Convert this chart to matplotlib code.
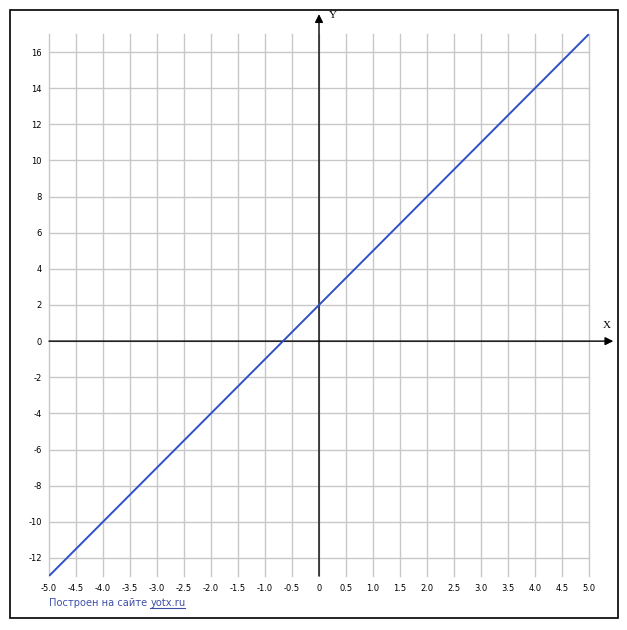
import matplotlib
matplotlib.use("Agg")
import matplotlib.pyplot as plt
from matplotlib.patches import Rectangle
from matplotlib.lines import Line2D

# Data
line_x = [-5.0, 5.0]
line_y = [-13.0, 17.0]
x_ticks = [-5.0, -4.5, -4.0, -3.5, -3.0, -2.5, -2.0, -1.5, -1.0, -0.5, 0.0,
           0.5, 1.0, 1.5, 2.0, 2.5, 3.0, 3.5, 4.0, 4.5, 5.0]
y_ticks = [-12, -10, -8, -6, -4, -2, 0, 2, 4, 6, 8, 10, 12, 14, 16]
x_labels = ["0" if v == 0 else f"{v:.1f}" for v in x_ticks]
y_labels = [str(v) for v in y_ticks]
xlim = (-5.0, 5.0)
ylim = (-13.0, 17.0)

W, H = 627, 630
fig = plt.figure(figsize=(W / 100, H / 100), dpi=100)
fig.patch.set_facecolor("white")

def fx(px):
    return px / W

def fy(py):
    return (H - py) / H

ax = fig.add_axes([fx(49), fy(576), (589 - 49) / W, (576 - 34) / H])
ax.set_xlim(*xlim)
ax.set_ylim(*ylim)
for s in ax.spines.values():
    s.set_visible(False)
ax.set_xticks(x_ticks)
ax.set_xticklabels(x_labels)
ax.set_yticks(y_ticks)
ax.set_yticklabels(y_labels)
ax.tick_params(length=0, labelsize=6, pad=6, labelcolor="black")
ax.tick_params(axis="y", pad=5)
ax.grid(True, color="#c8c8c8", linewidth=1.0)
ax.set_axisbelow(True)
for gl in ax.get_xgridlines() + ax.get_ygridlines():
    gl.set_clip_on(False)

# axes lines with arrows
ax.annotate("", xy=(5.45, 0), xytext=(-5.0, 0),
            arrowprops=dict(arrowstyle="-|>", color="black", lw=1.0,
                            mutation_scale=12, shrinkA=0, shrinkB=0),
            annotation_clip=False)
ax.annotate("", xy=(0, 18.1), xytext=(0, -13.0),
            arrowprops=dict(arrowstyle="-|>", color="black", lw=1.0,
                            mutation_scale=12, shrinkA=0, shrinkB=0),
            annotation_clip=False)

ax.plot(line_x, line_y, color="#2f4fc8", lw=1.4, solid_capstyle="butt", zorder=5)

fig.text(fx(607), fy(326), "X", family="Liberation Serif", fontsize=8,
         ha="center", va="center")
fig.text(fx(333), fy(16), "Y", family="Liberation Serif", fontsize=8,
         ha="center", va="center")

# border
fig.patches.append(Rectangle((fx(9.5), fy(617.5)), (617.5 - 9.5) / W, (617.5 - 9.5) / H,
                             transform=fig.transFigure, fill=False,
                             edgecolor="black", lw=1.2))

# footer text
c = "#3f4fa8"
prefix = "Построен на сайте "
t1 = fig.text(fx(49), fy(603), prefix, fontsize=7.1, color=c, va="center", ha="left")
fig.canvas.draw()
r = fig.canvas.get_renderer()
bb = t1.get_window_extent(r)
t2 = fig.text(bb.x1 / W, fy(603), "yotx.ru", fontsize=7.1, color=c, va="center", ha="left")
fig.canvas.draw()
bb2 = t2.get_window_extent(r)
fig.lines.append(Line2D([bb2.x0 / W, (bb2.x1 - 1) / W], [fy(607.5), fy(607.5)],
                        transform=fig.transFigure, color=c, lw=0.8))

fig.savefig("out.png", dpi=100)
